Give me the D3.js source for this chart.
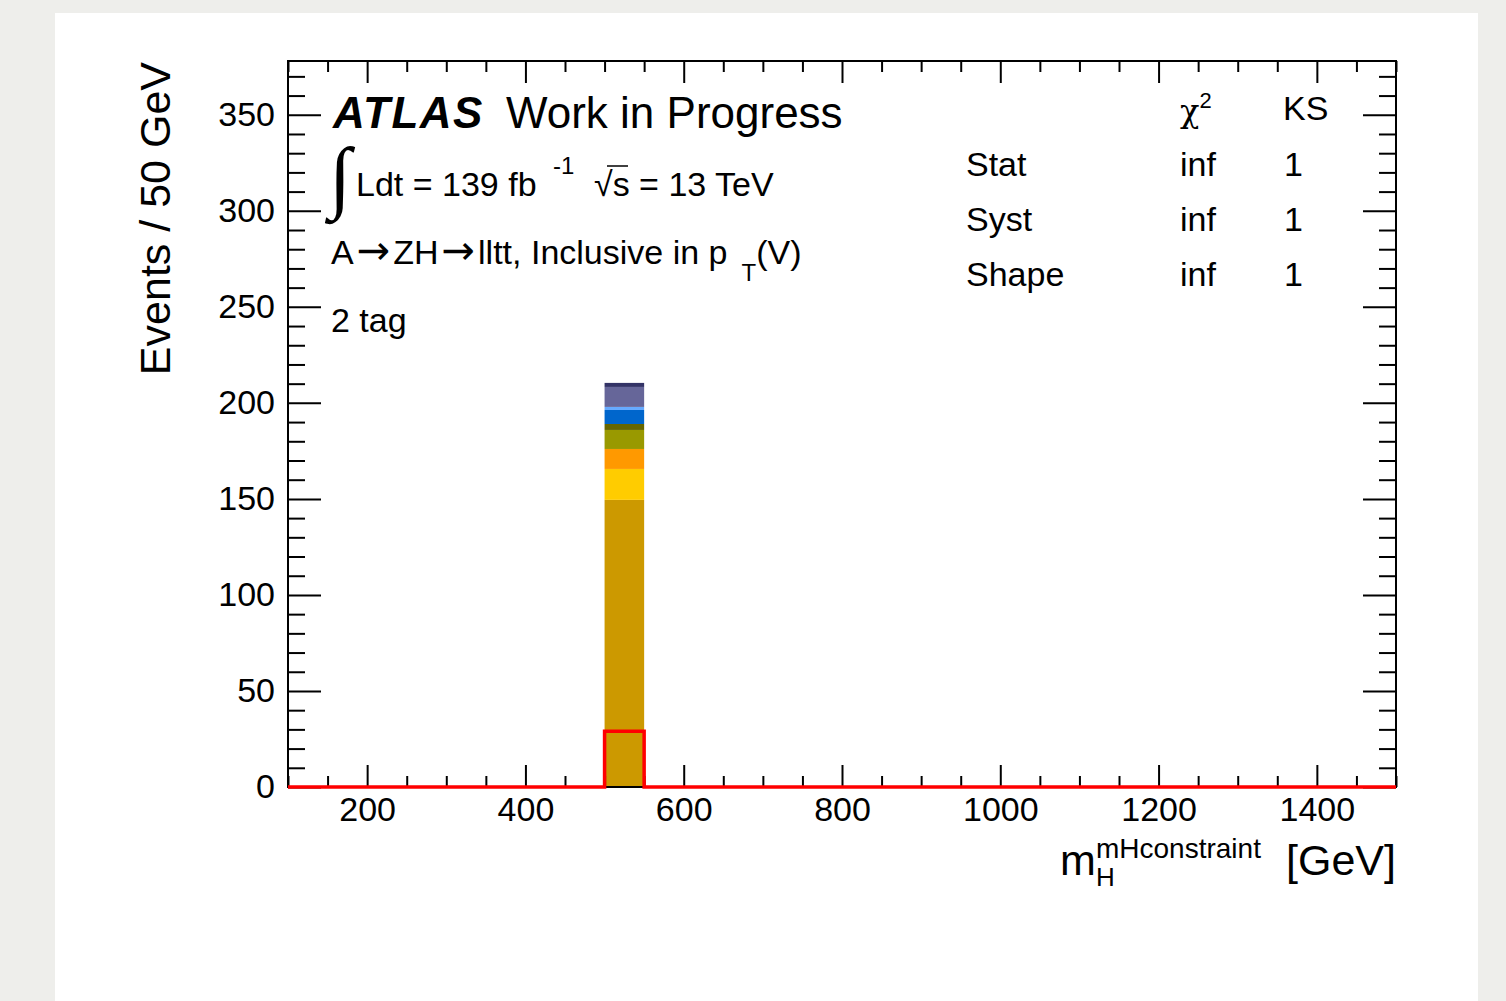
<!DOCTYPE html>
<html>
<head>
<meta charset="utf-8">
<script src="https://cdn.jsdelivr.net/npm/d3@7/dist/d3.min.js"></script>
<style>
  body { margin: 0; background: #eeeeeb; }
  text { font-family: "Liberation Sans", Arial, Helvetica, sans-serif; fill: #000; }
</style>
</head>
<body>
<div id="chart"></div>
<script>
// histogram: only one bin is filled
const binEdges = [500, 550];
const sampleNames = ["bkg1", "bkg2", "bkg3", "bkg4", "bkg5", "bkg6", "bkg7", "bkg8", "bkg9"];
const sampleColors = ["#cc9900", "#ffcc00", "#ff9900", "#999900", "#666600", "#0066cc", "#66aaff", "#666699", "#333366"];
const sampleYields = [149.5, 16.1, 10.4, 9.9, 3.1, 7.3, 1.6, 10.4, 2.1];
const signalYield = 29;

const xMajorTicks = [200, 400, 600, 800, 1000, 1200, 1400];
const xMinorTicks = [100, 150, 250, 300, 350, 450, 500, 550, 650, 700, 750, 850, 900, 950, 1050, 1100, 1150, 1250, 1300, 1350, 1450, 1500];
const yMajorTicks = [0, 50, 100, 150, 200, 250, 300, 350];
const yMinorTicks = d3.range(0, 371, 10).filter(v => v % 50 !== 0);

const tableRows = ["Stat", "Syst", "Shape"];
const chi2Values = ["inf", "inf", "inf"];
const ksValues = ["1", "1", "1"];

const W = 1506, H = 1001;
const margin = {top: 61, right: 110, bottom: 214, left: 288};
const iw = W - margin.left - margin.right;   // 1108
const ih = H - margin.top - margin.bottom;   // 726

const svg = d3.select("#chart").append("svg")
    .attr("width", W)
    .attr("height", H);

// page background + white canvas
svg.append("rect").attr("width", W).attr("height", H).attr("fill", "#eeeeeb");
svg.append("rect").attr("x", 55).attr("y", 13).attr("width", 1423).attr("height", H - 13).attr("fill", "#fff");

const g = svg.append("g").attr("transform", `translate(${margin.left},${margin.top})`);

const x = d3.scaleLinear().domain([100, 1500]).range([0, iw]);
const y = d3.scaleLinear().domain([0, 378]).range([ih, 0]);

// stacked backgrounds
let cum = 0;
const stack = sampleYields.map((v, i) => {
    const s = {name: sampleNames[i], color: sampleColors[i], y0: cum, y1: cum + v};
    cum += v;
    return s;
});

g.selectAll(".bkg")
    .data(stack)
    .enter().append("rect")
    .attr("class", "bkg")
    .attr("x", x(binEdges[0]))
    .attr("width", x(binEdges[1]) - x(binEdges[0]))
    .attr("y", d => y(d.y1))
    .attr("height", d => y(d.y0) - y(d.y1))
    .attr("fill", d => d.color);

// axes (ROOT style: ticks inward, mirrored)
function axisStyle(sel) {
    sel.select(".domain").remove();
    sel.selectAll("line").attr("stroke", "#000").attr("stroke-width", 2);
    sel.selectAll("text").style("font-size", "34px").attr("fill", "#000");
}

g.append("g").attr("transform", `translate(0,${ih})`)
    .call(d3.axisBottom(x).tickValues(xMajorTicks).tickSizeInner(-22).tickSizeOuter(0).tickPadding(10).tickFormat(d3.format("d")))
    .call(axisStyle);
g.append("g").attr("transform", `translate(0,${ih})`)
    .call(d3.axisBottom(x).tickValues(xMinorTicks).tickSizeInner(-11).tickSizeOuter(0).tickFormat(""))
    .call(axisStyle);
g.append("g")
    .call(d3.axisTop(x).tickValues(xMajorTicks).tickSizeInner(-22).tickSizeOuter(0).tickFormat(""))
    .call(axisStyle);
g.append("g")
    .call(d3.axisTop(x).tickValues(xMinorTicks).tickSizeInner(-11).tickSizeOuter(0).tickFormat(""))
    .call(axisStyle);

g.append("g")
    .call(d3.axisLeft(y).tickValues(yMajorTicks).tickSizeInner(-33).tickSizeOuter(0).tickPadding(13))
    .call(axisStyle);
g.append("g")
    .call(d3.axisLeft(y).tickValues(yMinorTicks).tickSizeInner(-17).tickSizeOuter(0).tickFormat(""))
    .call(axisStyle);
g.append("g").attr("transform", `translate(${iw},0)`)
    .call(d3.axisRight(y).tickValues(yMajorTicks).tickSizeInner(-33).tickSizeOuter(0).tickFormat(""))
    .call(axisStyle);
g.append("g").attr("transform", `translate(${iw},0)`)
    .call(d3.axisRight(y).tickValues(yMinorTicks).tickSizeInner(-17).tickSizeOuter(0).tickFormat(""))
    .call(axisStyle);

// frame
g.append("rect")
    .attr("width", iw).attr("height", ih)
    .attr("fill", "none").attr("stroke", "#000").attr("stroke-width", 2);

// signal histogram (red step line)
const signalPts = [
    {m: x.domain()[0], v: 0},
    {m: binEdges[0], v: signalYield},
    {m: binEdges[1], v: 0},
    {m: x.domain()[1], v: 0}
];
const step = d3.line().x(d => x(d.m)).y(d => y(d.v)).curve(d3.curveStepAfter);
g.append("path")
    .attr("d", step(signalPts))
    .attr("fill", "none")
    .attr("stroke", "#ff0000")
    .attr("stroke-width", 3.5);

// axis titles
svg.append("text")
    .attr("transform", "translate(170,62) rotate(-90)")
    .attr("text-anchor", "end")
    .style("font-size", "43px")
    .text("Events / 50 GeV");

svg.append("text").attr("x", 1060).attr("y", 875).style("font-size", "43px").text("m");
svg.append("text").attr("x", 1096).attr("y", 886).style("font-size", "26px").text("H");
svg.append("text").attr("x", 1096).attr("y", 858).style("font-size", "28px").text("mHconstraint");
svg.append("text").attr("x", 1396).attr("y", 875).attr("text-anchor", "end").style("font-size", "43px").text("[GeV]");

// ATLAS label block
const lab = svg.append("text").attr("x", 333).attr("y", 128).style("font-size", "44px");
lab.append("tspan").style("font-weight", "bold").style("font-style", "italic").style("letter-spacing", "1.5px").text("ATLAS");
lab.append("tspan").attr("x", 506).text("Work in Progress");

svg.append("text").attr("x", 329).attr("y", 203)
    .style("font-family", "'Liberation Serif', serif").style("font-size", "80px").text("∫");
svg.append("text").attr("x", 356).attr("y", 196).style("font-size", "34px").text("Ldt = 139 fb");
svg.append("text").attr("x", 553).attr("y", 174).style("font-size", "24px").text("-1");
svg.append("text").attr("x", 594).attr("y", 196).style("font-size", "34px").text("√s = 13 TeV");
svg.append("line").attr("x1", 607).attr("x2", 628).attr("y1", 166).attr("y2", 166)
    .attr("stroke", "#000").attr("stroke-width", 1.5);

const chan = svg.append("text").attr("x", 331).attr("y", 264).style("font-size", "34px");
chan.append("tspan").text("A");
chan.append("tspan").attr("dx", 3).style("font-family", "'DejaVu Sans', sans-serif").style("font-size", "40px").text("→");
chan.append("tspan").attr("dx", 3).text("ZH");
chan.append("tspan").attr("dx", 3).style("font-family", "'DejaVu Sans', sans-serif").style("font-size", "40px").text("→");
chan.append("tspan").attr("dx", 3).text("lltt, Inclusive in p");
chan.append("tspan").attr("dx", 14).attr("dy", 17).style("font-size", "24px").text("T");
chan.append("tspan").attr("dy", -17).text("(V)");

svg.append("text").attr("x", 331).attr("y", 332).style("font-size", "34px").text("2 tag");

// chi2 / KS table
const hdr = svg.append("text").attr("x", 1180).attr("y", 122).style("font-size", "34px");
hdr.append("tspan").style("font-family", "'DejaVu Serif', serif").style("font-size", "32px").text("χ");
hdr.append("tspan").attr("dy", -14).style("font-size", "22px").text("2");
svg.append("text").attr("x", 1283).attr("y", 120).style("font-size", "34px").text("KS");

const rowY = [176, 231, 286];
tableRows.forEach((r, i) => {
    svg.append("text").attr("x", 966).attr("y", rowY[i]).style("font-size", "34px").text(r);
    svg.append("text").attr("x", 1180).attr("y", rowY[i]).style("font-size", "34px").text(chi2Values[i]);
    svg.append("text").attr("x", 1284).attr("y", rowY[i]).style("font-size", "34px").text(ksValues[i]);
});
</script>
</body>
</html>
